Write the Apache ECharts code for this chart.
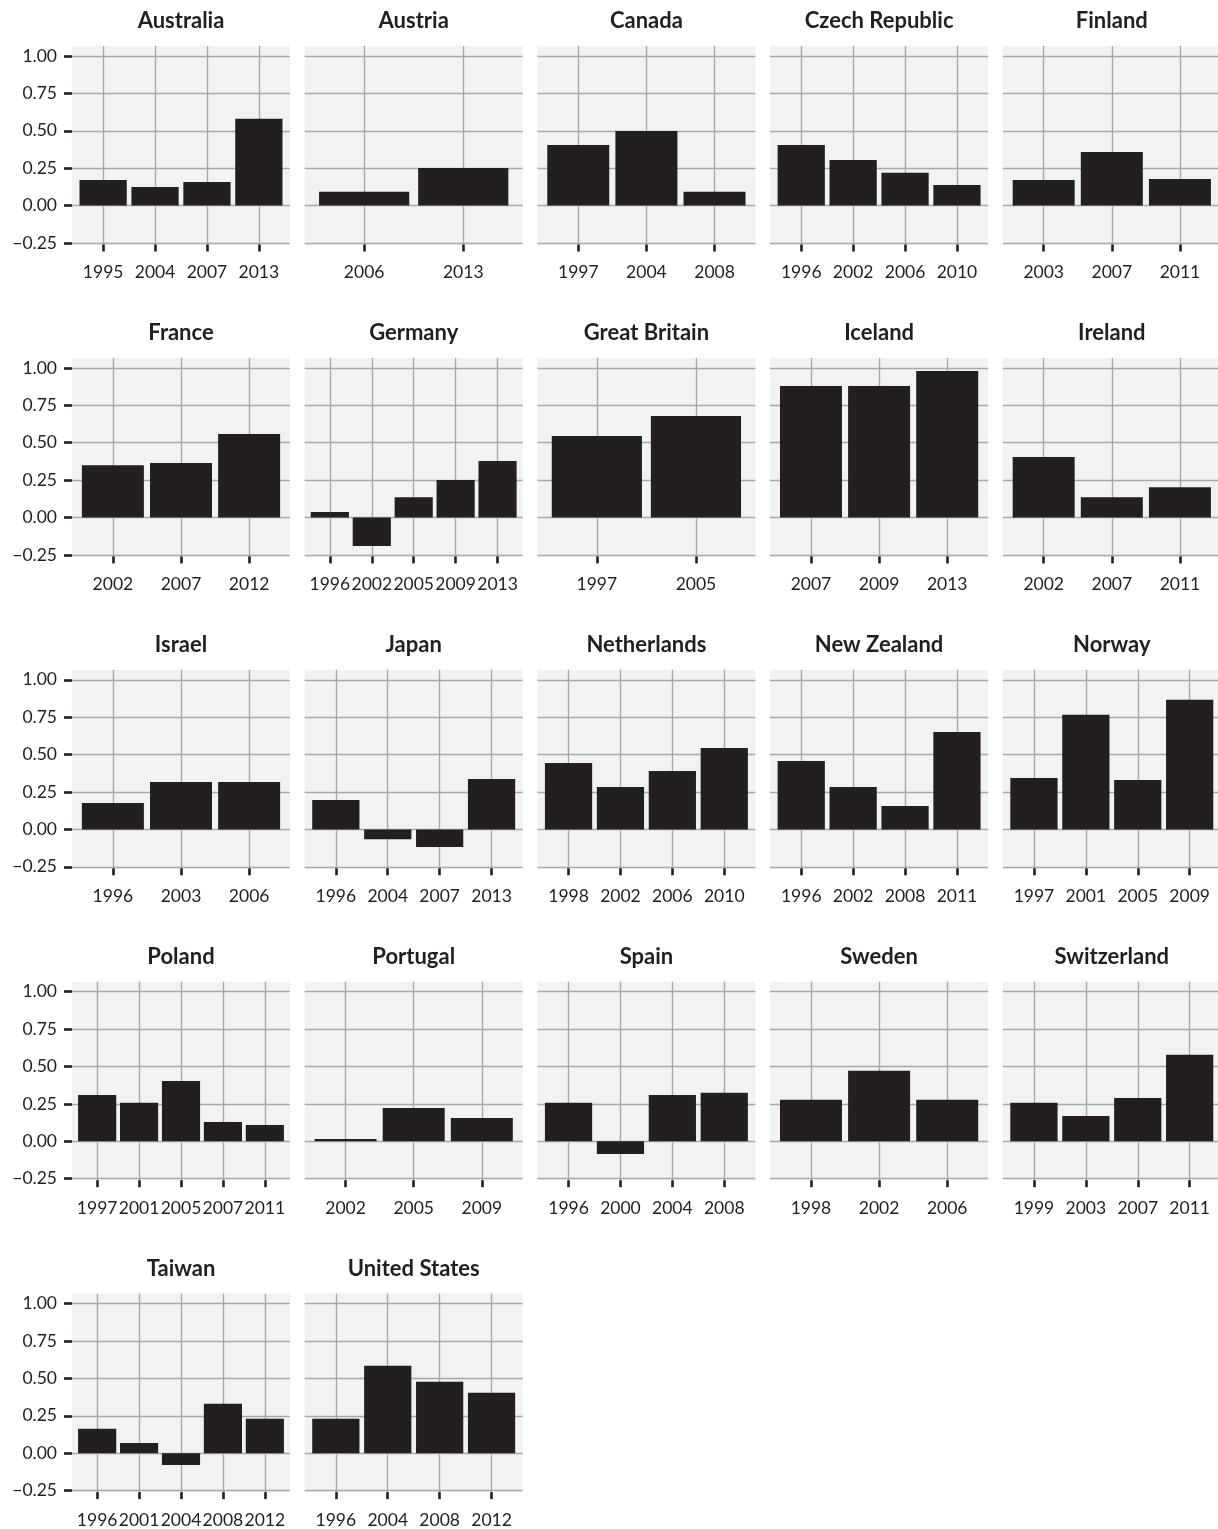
<!DOCTYPE html>
<html>
<head>
<meta charset="utf-8">
<script src="https://cdn.jsdelivr.net/npm/echarts@6/dist/echarts.min.js"></script>
<style>
  html, body { margin: 0; padding: 0; background: #ffffff; }
  #chart { width: 1218px; height: 1529px; }
</style>
</head>
<body>
<div id="chart"></div>
<script>
// Panel titles, one per country
const countries = [
  'Australia', 'Austria', 'Canada', 'Czech Republic', 'Finland',
  'France', 'Germany', 'Great Britain', 'Iceland', 'Ireland',
  'Israel', 'Japan', 'Netherlands', 'New Zealand', 'Norway',
  'Poland', 'Portugal', 'Spain', 'Sweden', 'Switzerland',
  'Taiwan', 'United States'
];

// Survey years shown on each panel's x axis
const surveyYears = [
  [1995, 2004, 2007, 2013],
  [2006, 2013],
  [1997, 2004, 2008],
  [1996, 2002, 2006, 2010],
  [2003, 2007, 2011],
  [2002, 2007, 2012],
  [1996, 2002, 2005, 2009, 2013],
  [1997, 2005],
  [2007, 2009, 2013],
  [2002, 2007, 2011],
  [1996, 2003, 2006],
  [1996, 2004, 2007, 2013],
  [1998, 2002, 2006, 2010],
  [1996, 2002, 2008, 2011],
  [1997, 2001, 2005, 2009],
  [1997, 2001, 2005, 2007, 2011],
  [2002, 2005, 2009],
  [1996, 2000, 2004, 2008],
  [1998, 2002, 2006],
  [1999, 2003, 2007, 2011],
  [1996, 2001, 2004, 2008, 2012],
  [1996, 2004, 2008, 2012]
];

// Bar heights, aligned with surveyYears
const values = [
  [0.172, 0.125, 0.158, 0.580],
  [0.092, 0.252],
  [0.406, 0.499, 0.092],
  [0.406, 0.305, 0.219, 0.138],
  [0.172, 0.359, 0.178],
  [0.350, 0.364, 0.558],
  [0.036, -0.190, 0.136, 0.250, 0.377],
  [0.545, 0.679],
  [0.879, 0.879, 0.980],
  [0.404, 0.136, 0.203],
  [0.176, 0.317, 0.317],
  [0.196, -0.065, -0.118, 0.337],
  [0.444, 0.283, 0.391, 0.545],
  [0.458, 0.283, 0.156, 0.652],
  [0.344, 0.766, 0.330, 0.866],
  [0.310, 0.257, 0.404, 0.129, 0.109],
  [0.016, 0.223, 0.156],
  [0.257, -0.085, 0.310, 0.324],
  [0.277, 0.471, 0.277],
  [0.257, 0.170, 0.290, 0.578],
  [0.163, 0.069, -0.078, 0.330, 0.230],
  [0.230, 0.585, 0.478, 0.404]
];

// Shared y scale ticks
const yTickValues = [-0.25, 0, 0.25, 0.5, 0.75, 1];
const yTickLabels = ['\u22120.25', '0.00', '0.25', '0.50', '0.75', '1.00'];

// Facet layout
const COLS = 5;
const LEFT0 = 72, TOP0 = 46;
const COL_STEP = 232.7, ROW_STEP = 311.9;
const PANEL_W = 218, PANEL_H = 198.5;
const Y_MIN = -0.26, Y_MAX = 1.067;
const X_PAD = 0.6;          // discrete-axis padding, in category units
const BAR_FRACTION = 0.91;  // bar width relative to category spacing

const INK = '#231f20';
const GRID_COLOR = '#a9a9ab';
const PANEL_BG = '#f1f2f4';
const FONT = 'Lato';

const grids = [], xAxes = [], yAxes = [], series = [], titles = [];

countries.forEach((name, i) => {
  const col = i % COLS, row = Math.floor(i / COLS);
  const left = LEFT0 + col * COL_STEP;
  const top = TOP0 + row * ROW_STEP;
  const yrs = surveyYears[i];
  const n = yrs.length;
  const idx = yrs.map((_, k) => k);
  const firstCol = col === 0;

  grids.push({
    left: left, top: top, width: PANEL_W, height: PANEL_H,
    show: true, backgroundColor: PANEL_BG, borderWidth: 0,
    containLabel: false, outerBoundsMode: 'none'
  });

  titles.push({
    text: name,
    left: left + PANEL_W / 2,
    top: top - 36,
    textAlign: 'center',
    padding: 0,
    textStyle: { fontFamily: FONT, fontWeight: 'bold', fontSize: 22, color: INK }
  });

  xAxes.push({
    type: 'value', gridIndex: i,
    min: -X_PAD, max: n - 1 + X_PAD,
    axisLine: { show: false, onZero: false },
    axisTick: { show: true, length: 7, customValues: idx,
      lineStyle: { color: INK, width: 2.6 } },
    axisLabel: { show: true, customValues: idx, margin: 19,
      fontFamily: FONT, fontSize: 17.5, color: INK,
      formatter: v => String(yrs[Math.round(v)]) },
    splitLine: { show: true, lineStyle: { color: GRID_COLOR, width: 1.4 } }
  });

  yAxes.push({
    type: 'value', gridIndex: i,
    min: Y_MIN, max: Y_MAX,
    axisLine: { show: false, onZero: false },
    axisTick: { show: firstCol, length: 8, customValues: yTickValues,
      lineStyle: { color: INK, width: 2.6 } },
    axisLabel: { show: firstCol, customValues: yTickValues, margin: 15,
      fontFamily: FONT, fontSize: 17.5, color: INK,
      formatter: v => {
        const k = yTickValues.findIndex(t => Math.abs(t - v) < 1e-6);
        return k >= 0 ? yTickLabels[k] : '';
      } },
    splitLine: { show: true, lineStyle: { color: GRID_COLOR, width: 1.4 } }
  });

  series.push({
    type: 'bar', xAxisIndex: i, yAxisIndex: i,
    data: values[i].map((v, k) => [k, v]),
    barWidth: BAR_FRACTION * PANEL_W / (n - 1 + 2 * X_PAD),
    itemStyle: { color: INK },
    emphasis: { disabled: true },
    silent: true
  });
});

const chart = echarts.init(document.getElementById('chart'), null, { renderer: 'canvas' });
chart.setOption({
  animation: false,
  backgroundColor: '#ffffff',
  textStyle: { fontFamily: FONT },
  title: titles,
  grid: grids,
  xAxis: xAxes,
  yAxis: yAxes,
  series: series,
  tooltip: { show: false }
});
</script>
</body>
</html>
